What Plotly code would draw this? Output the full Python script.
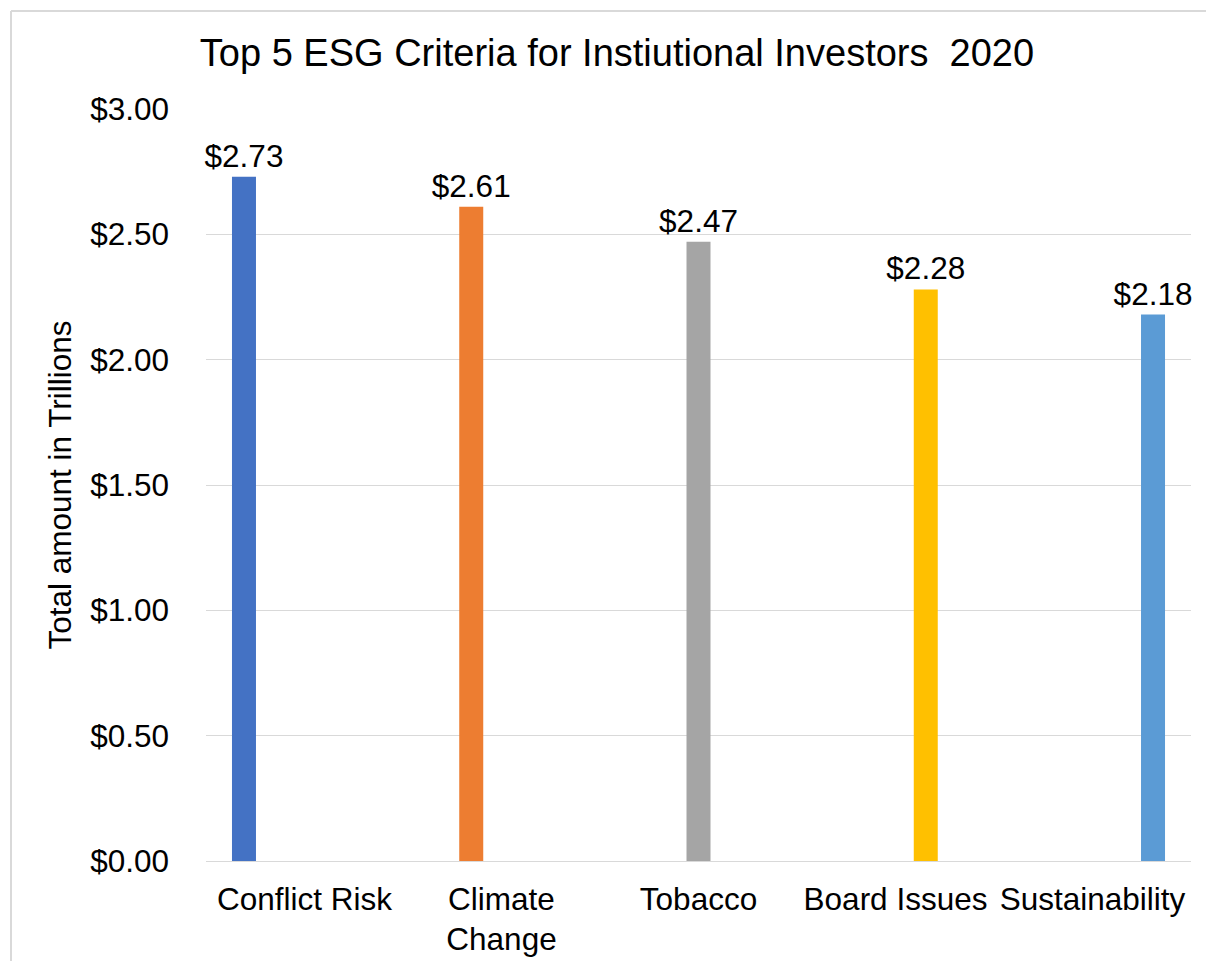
import plotly.graph_objects as go

# Top ESG criteria and the assets (US$ trillions) tied to each
categories = ["Conflict Risk", "Climate<br>Change", "Tobacco", "Board Issues", "Sustainability"]
values = [2.73, 2.61, 2.47, 2.28, 2.18]
colors = ["#4472C4", "#ED7D31", "#A5A5A5", "#FFC000", "#5B9BD5"]
y_ticks = [0, 0.5, 1.0, 1.5, 2.0, 2.5, 3.0]

FONT = "Liberation Sans, Arial, sans-serif"
FS = 31.5

fig = go.Figure()
# One series per criterion, each filled only at its own category
for i, (cat, val, col) in enumerate(zip(categories, values, colors)):
    ys = [val if j == i else None for j in range(len(categories))]
    fig.add_trace(go.Bar(
        x=categories, y=ys, name=cat.replace("<br>", " "),
        marker=dict(color=col, line=dict(width=0)),
        texttemplate="$%{y:.2f}", textposition="outside",
        constraintext="none", textangle=0,
        textfont=dict(size=FS, color="#000000", family=FONT),
        cliponaxis=False,
    ))

W, H = 1206, 961
L, R, T, B = 206, 15, 109, 100

fig.update_layout(
    width=W, height=H,
    margin=dict(l=L, r=R, t=T, b=B, autoexpand=False),
    paper_bgcolor="white", plot_bgcolor="white",
    barmode="group", bargap=0.232, bargroupgap=0.207,
    showlegend=False,
    font=dict(family=FONT, size=FS, color="#000000"),
    title=dict(
        text="Top 5 ESG Criteria for Instiutional Investors\u00a0\u00a02020",
        x=617 / W, xanchor="center", xref="container",
        y=1 - 53 / H, yanchor="middle", yref="container",
        font=dict(size=38, color="#000000", family=FONT),
    ),
    xaxis=dict(
        showgrid=False, showline=False, zeroline=False, automargin=False,
        ticks="", ticklabelstandoff=16,
        tickfont=dict(size=FS, color="#000000", family=FONT),
    ),
    yaxis=dict(
        range=[0, 3.0], tickvals=y_ticks, tickformat="$.2f", automargin=False,
        showgrid=True, gridcolor="#D9D9D9", gridwidth=1.3,
        zeroline=True, zerolinecolor="#D9D9D9", zerolinewidth=1.3,
        showline=False, ticks="", ticklabelstandoff=36,
        tickfont=dict(size=FS, color="#000000", family=FONT),
        title=dict(text="Total amount in Trillions", standoff=9,
                   font=dict(size=FS, color="#000000", family=FONT)),
    ),
)

# Light chart-area border along the top and left edges
pw, ph = W - L - R, H - T - B
x_left = (11 - L) / pw
y_top = (H - B - 11) / ph
fig.add_shape(type="line", xref="paper", yref="paper",
              x0=x_left, x1=(W + 5 - L) / pw, y0=y_top, y1=y_top,
              line=dict(color="#D9D9D9", width=2))
fig.add_shape(type="line", xref="paper", yref="paper",
              x0=x_left, x1=x_left, y0=y_top, y1=-(B + 5) / ph,
              line=dict(color="#D9D9D9", width=2))

fig.write_html("out.html")
